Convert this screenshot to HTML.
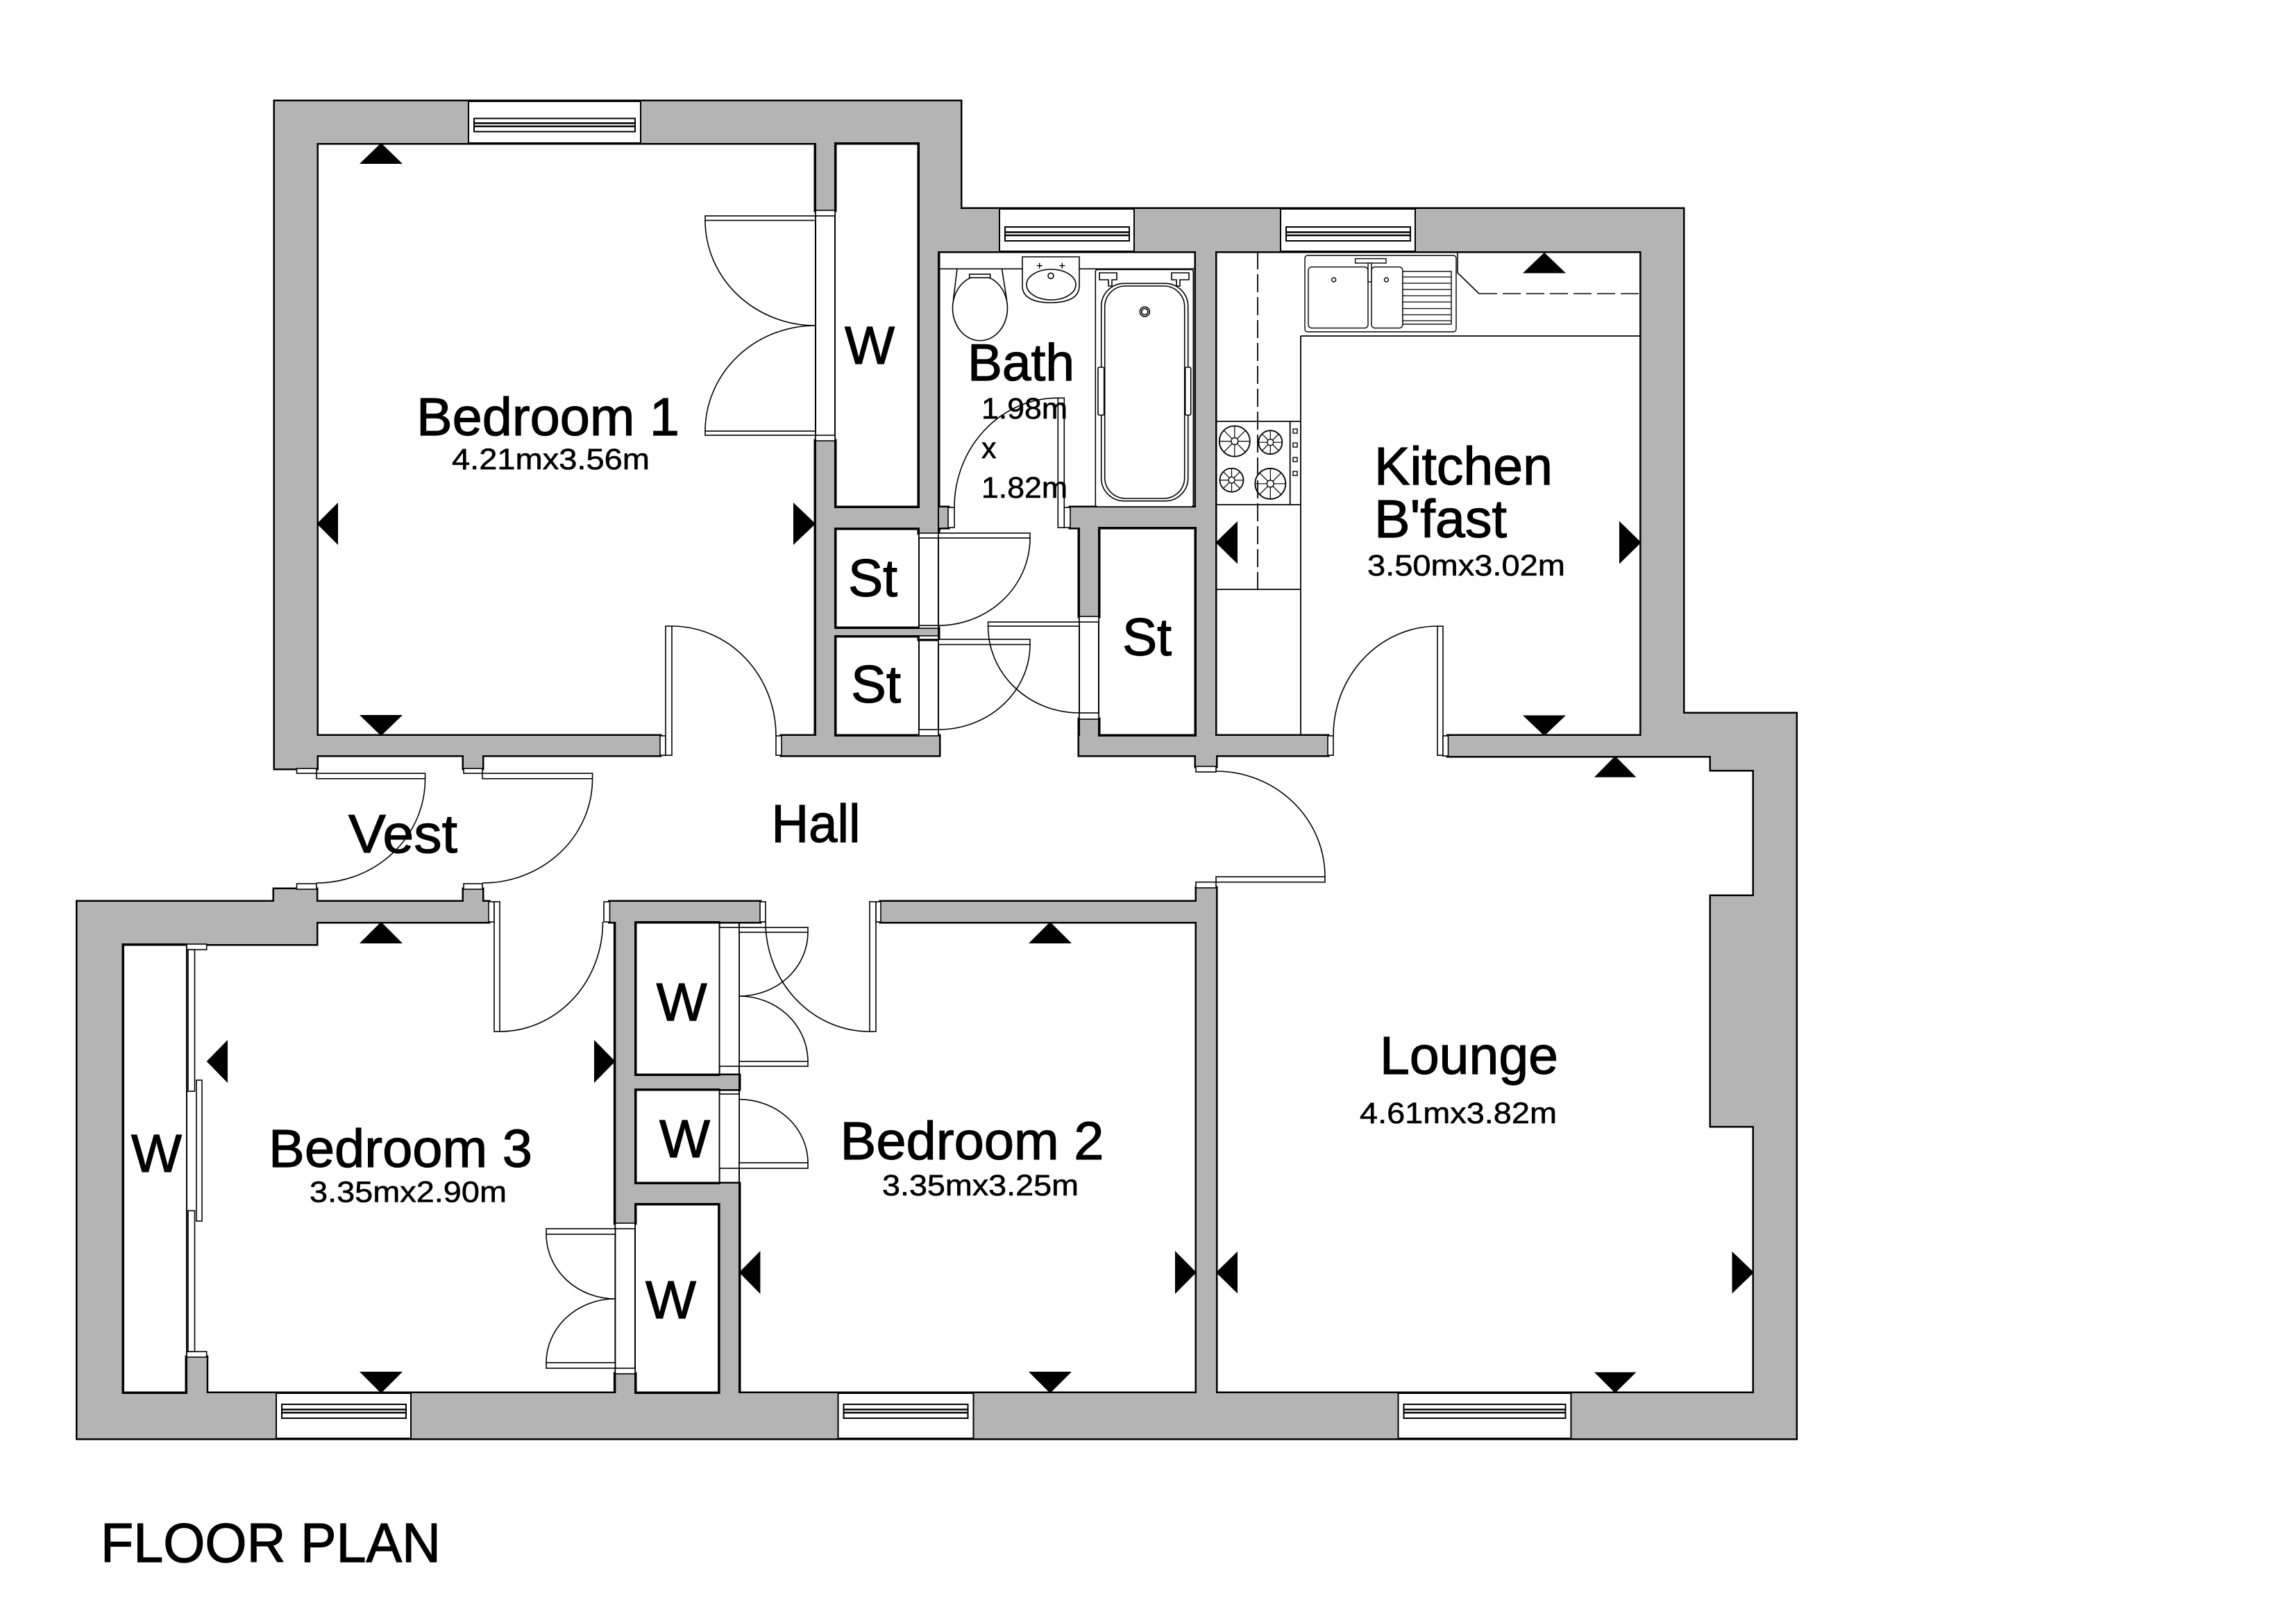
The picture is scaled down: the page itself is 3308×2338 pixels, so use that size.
<!DOCTYPE html>
<html><head><meta charset="utf-8"><style>
html,body{margin:0;padding:0;background:#fff;}
svg{display:block;}
text{font-family:"Liberation Sans",Arial,sans-serif;fill:#000;}
.b{stroke:#000;stroke-width:1.2;}
.s{stroke:#000;stroke-width:0.6;}
</style></head><body>
<svg xmlns="http://www.w3.org/2000/svg" width="3308" height="2338" viewBox="0 0 3308 2338">
<rect x="0" y="0" width="3308" height="2338" fill="#fff"/>
<g fill="#b4b4b4">
<path stroke="#000" stroke-width="5" d="M396 146H1384V206H396Z M396 146H456.5V1107H396Z M396 1060H951V1088H396Z M668 1088H695V1107H668Z M1175 206H1203V303H1175Z M1175 635H1203V1088H1175Z M1175 731H1353V761H1175Z M1203 905H1324V916H1203Z M1126 1060H1353V1088H1126Z M1324 146H1384V362H1324Z M1324 362H1352V768H1324Z M1324 905H1352V921H1324Z M1384 301H2425V362H1384Z M1324 731H1366V760H1324Z M1542 731H1751V760H1542Z M1723 362H1751V1060H1723Z M1555 760H1583V888H1555Z M1555 1036H1583V1060H1555Z M1555 1060H1913V1088H1555Z M1723 1088H1752V1104H1723Z M2364.6 301H2425V1060H2364.6Z M2086.5 1060H2587.6V1089H2086.5Z M2364.6 1028H2587.6V1060H2364.6Z M2465 1060H2587.6V1109H2465Z M2527 1060H2587.6V2072H2527Z M2465 1291H2527V1622H2465Z M111.5 1299H704V1328H111.5Z M176.5 1328H456V1360H176.5Z M395 1281H456V1299H395Z M668 1281H695V1299H668Z M111.5 1299H176.5V2072H111.5Z M111.5 2007H2587.6V2072H111.5Z M269 1955H297.7V2007H269Z M886.4 1299H915V1762H886.4Z M886.4 1979H915V2007H886.4Z M878.5 1299H1095V1328H878.5Z M915 1549H1065V1569H915Z M915 1705H1065V1734H915Z M1036.6 1705H1065V2007H1036.6Z M1269 1299H1752V1328H1269Z M1724 1279H1752V2007H1724Z"/>
<path d="M396 146H1384V206H396Z M396 146H456.5V1107H396Z M396 1060H951V1088H396Z M668 1088H695V1107H668Z M1175 206H1203V303H1175Z M1175 635H1203V1088H1175Z M1175 731H1353V761H1175Z M1203 905H1324V916H1203Z M1126 1060H1353V1088H1126Z M1324 146H1384V362H1324Z M1324 362H1352V768H1324Z M1324 905H1352V921H1324Z M1384 301H2425V362H1384Z M1324 731H1366V760H1324Z M1542 731H1751V760H1542Z M1723 362H1751V1060H1723Z M1555 760H1583V888H1555Z M1555 1036H1583V1060H1555Z M1555 1060H1913V1088H1555Z M1723 1088H1752V1104H1723Z M2364.6 301H2425V1060H2364.6Z M2086.5 1060H2587.6V1089H2086.5Z M2364.6 1028H2587.6V1060H2364.6Z M2465 1060H2587.6V1109H2465Z M2527 1060H2587.6V2072H2527Z M2465 1291H2527V1622H2465Z M111.5 1299H704V1328H111.5Z M176.5 1328H456V1360H176.5Z M395 1281H456V1299H395Z M668 1281H695V1299H668Z M111.5 1299H176.5V2072H111.5Z M111.5 2007H2587.6V2072H111.5Z M269 1955H297.7V2007H269Z M886.4 1299H915V1762H886.4Z M886.4 1979H915V2007H886.4Z M878.5 1299H1095V1328H878.5Z M915 1549H1065V1569H915Z M915 1705H1065V1734H915Z M1036.6 1705H1065V2007H1036.6Z M1269 1299H1752V1328H1269Z M1724 1279H1752V2007H1724Z"/>
</g>

<g fill="#fff" stroke="#000" stroke-width="2">
<rect x="675" y="146" width="248" height="60"/>
<rect x="683" y="170.6" width="232" height="19"/>
<rect x="1440" y="301" width="194" height="61"/>
<rect x="1448" y="327" width="179" height="20"/>
<rect x="1845" y="301" width="194" height="61"/>
<rect x="1853" y="327" width="179" height="20"/>
<rect x="398" y="2007" width="194" height="65"/>
<rect x="406" y="2023" width="179" height="20"/>
<rect x="1207.5" y="2007" width="195" height="65"/>
<rect x="1215.5" y="2023" width="179" height="20"/>
<rect x="2014.5" y="2007" width="249" height="65"/>
<rect x="2022.5" y="2023" width="233" height="20"/>
</g>
<g stroke="#000" stroke-width="2.5">
<line x1="683" y1="177.5" x2="915" y2="177.5"/><line x1="683" y1="182" x2="915" y2="182"/>
<line x1="1448" y1="334.5" x2="1627" y2="334.5"/><line x1="1448" y1="339" x2="1627" y2="339"/>
<line x1="1853" y1="334.5" x2="2032" y2="334.5"/><line x1="1853" y1="339" x2="2032" y2="339"/>
<line x1="406" y1="2030.5" x2="585" y2="2030.5"/><line x1="406" y1="2035" x2="585" y2="2035"/>
<line x1="1215.5" y1="2030.5" x2="1394.5" y2="2030.5"/><line x1="1215.5" y1="2035" x2="1394.5" y2="2035"/>
<line x1="2022.5" y1="2030.5" x2="2255.5" y2="2030.5"/><line x1="2022.5" y1="2035" x2="2255.5" y2="2035"/>
</g>

<g fill="none" stroke="#000" stroke-width="2">
<rect x="1203" y="206" width="121" height="525"/>
<rect x="1203" y="761" width="121" height="144"/>
<rect x="1203" y="916" width="121" height="144"/>
<rect x="1583" y="760" width="140" height="300"/>
<rect x="176.5" y="1360" width="92.5" height="647"/>
<rect x="915" y="1328" width="121.6" height="221"/>
<rect x="915" y="1569" width="121.6" height="136"/>
<rect x="915" y="1734" width="121.6" height="273"/>
<line x1="1175" y1="206" x2="1175" y2="1060"/>
<line x1="1065" y1="1328" x2="1065" y2="2007"/>
<line x1="886.4" y1="1328" x2="886.4" y2="2007"/>
<line x1="1352" y1="362" x2="1352" y2="1060"/>
<line x1="1555" y1="760" x2="1555" y2="1060"/>
</g>

<g fill="#fff" stroke="#000" stroke-width="1.6">
<rect x="1175" y="303" width="28" height="8"/>
<rect x="1175" y="627" width="28" height="8"/>
<rect x="1016" y="311" width="159" height="6.5"/>
<rect x="1016" y="621" width="159" height="6"/>
<rect x="951" y="1060" width="8" height="28"/>
<rect x="959" y="902" width="9" height="186"/>
<rect x="1118" y="1060" width="8" height="28"/>
<rect x="1366" y="731" width="9" height="29"/>
<rect x="1524.3" y="573.3" width="9" height="186.7"/>
<rect x="1533.3" y="731" width="8.7" height="29"/>
<rect x="1324" y="768" width="28" height="7"/>
<rect x="1324" y="901" width="28" height="4"/>
<rect x="1352" y="768" width="132" height="7"/>
<rect x="1324" y="916" width="28" height="5"/>
<rect x="1324" y="1051" width="28" height="9"/>
<rect x="1352" y="921" width="132" height="7.5"/>
<rect x="1555" y="888" width="28" height="8"/>
<rect x="1555" y="1027" width="28" height="9"/>
<rect x="1423.6" y="896" width="131.4" height="6"/>
<rect x="1913" y="1060" width="8" height="28"/>
<rect x="2071" y="902" width="8" height="186"/>
<rect x="2079" y="1060" width="7.5" height="29"/>
<rect x="1723" y="1104" width="29" height="8"/>
<rect x="1752" y="1263" width="157" height="7.7"/>
<rect x="1723" y="1270.7" width="29" height="8.3"/>
<rect x="427.5" y="1107" width="28.5" height="7"/>
<rect x="668" y="1107" width="27" height="7"/>
<rect x="456" y="1114" width="156.6" height="7.7"/>
<rect x="695" y="1114" width="158.6" height="7.7"/>
<rect x="427.5" y="1273" width="28.5" height="8"/>
<rect x="668" y="1273" width="27" height="8"/>
<rect x="704" y="1299" width="8" height="29"/>
<rect x="712" y="1299" width="8" height="187"/>
<rect x="870" y="1299" width="8.5" height="29"/>
<rect x="1095" y="1299" width="8" height="29"/>
<rect x="1253" y="1299" width="9" height="187"/>
<rect x="1262" y="1299" width="7" height="29"/>
<rect x="1036.6" y="1336" width="28.4" height="200"/>
<rect x="1036.6" y="1576" width="28.4" height="107"/>
<rect x="1065" y="1336" width="99" height="7"/>
<rect x="1065" y="1529" width="99" height="7"/>
<rect x="1065" y="1675" width="99" height="8"/>
<rect x="886.4" y="1762" width="28.6" height="8"/>
<rect x="886.4" y="1971" width="28.6" height="8"/>
<rect x="787" y="1770" width="99.4" height="8"/>
<rect x="787" y="1963" width="99.4" height="8"/>
<rect x="269" y="1360" width="28.7" height="8"/>
<rect x="269" y="1947" width="28.7" height="8"/>
<rect x="271" y="1368" width="9.5" height="204"/>
<rect x="283" y="1556" width="8" height="203"/>
<rect x="271" y="1744" width="9.5" height="203"/>
</g>
<g fill="none" stroke="#000" stroke-width="1.6">
<path d="M1016 317.5 A159 151.5 0 0 0 1175 469"/>
<path d="M1016 621 A159 152 0 0 1 1175 469"/>
<path d="M968 902 A150 158 0 0 1 1118 1060"/>
<path d="M1524.3 573.3 A149 157.7 0 0 0 1375 731"/>
<path d="M1484 775 A132 126 0 0 1 1352 901"/>
<path d="M1484 928.5 A132 122.5 0 0 1 1352 1051"/>
<path d="M1423.6 902 A131.4 125 0 0 0 1555 1027"/>
<path d="M2071 902 A150 158 0 0 0 1921 1060"/>
<path d="M1909 1263 A157 152 0 0 0 1752 1111"/>
<path d="M612.6 1121.7 A156.6 150 0 0 1 456 1272"/>
<path d="M853.6 1121.7 A158.6 150 0 0 1 695 1272"/>
<path d="M720 1486 A148.5 158 0 0 0 868.5 1328"/>
<path d="M1253 1486 A150 158 0 0 1 1103 1328"/>
<path d="M1164 1343 A99 92 0 0 1 1065 1435"/>
<path d="M1164 1529 A99 94 0 0 0 1065 1435"/>
<path d="M1164 1675 A99 91.3 0 0 0 1065 1583.7"/>
<path d="M787 1778 A99.4 93 0 0 0 886.4 1871"/>
<path d="M787 1963 A99.4 92 0 0 1 886.4 1871"/>
</g>

<g fill="none" stroke="#000" stroke-width="1.8">
<line x1="1874" y1="484" x2="1874" y2="1060"/>
<line x1="1874" y1="484" x2="2364.6" y2="484"/>
<line x1="1751.5" y1="849" x2="1874" y2="849"/>
<line x1="1812" y1="362" x2="1812" y2="849" stroke-dasharray="26 7"/>
<line x1="1751.5" y1="607" x2="1874" y2="607"/>
<line x1="1751.5" y1="727" x2="1874" y2="727"/>
<line x1="1858.7" y1="607" x2="1858.7" y2="727"/>
<circle cx="1778.8" cy="635.6" r="22"/>
<circle cx="1830.3" cy="637.2" r="17"/>
<circle cx="1774.5" cy="691.6" r="17"/>
<circle cx="1830.3" cy="696.8" r="22"/>
<path stroke-width="1.2" d="M1756.8 635.6H1800.8M1778.8 613.6V657.6 M1813.3 637.2H1847.3M1830.3 620.2V654.2 M1757.5 691.6H1791.5M1774.5 674.6V708.6 M1808.3 696.8H1852.3M1830.3 674.8V718.8"/>
<path stroke-width="1.2" d="M1763.2 620L1794.4 651.2M1794.4 620L1763.2 651.2 M1818.3 625.2L1842.3 649.2M1842.3 625.2L1818.3 649.2 M1762.5 679.6L1786.5 703.6M1786.5 679.6L1762.5 703.6 M1814.7 681.2L1845.9 712.4M1845.9 681.2L1814.7 712.4"/>
</g>
<g fill="#fff" stroke="#000" stroke-width="1.4">
<circle cx="1778.8" cy="635.6" r="5"/>
<circle cx="1830.3" cy="637.2" r="4.5"/>
<circle cx="1774.5" cy="691.6" r="4.5"/>
<circle cx="1830.3" cy="696.8" r="5"/>
<rect x="1863" y="618" width="6" height="6"/>
<rect x="1863" y="638" width="6" height="6"/>
<rect x="1863" y="659" width="6" height="6"/>
<rect x="1863" y="679" width="6" height="6"/>
<rect x="1880" y="368" width="218" height="110" rx="4"/>
<rect x="1885" y="384.6" width="86" height="88" rx="5"/>
<rect x="1976" y="384.6" width="45" height="88" rx="5"/>
<rect x="2021" y="391" width="70" height="76"/>
<rect x="1952.6" y="372.6" width="44.4" height="6.4"/>
<rect x="1971" y="379" width="5" height="27"/>
<circle cx="1921.7" cy="403" r="3"/>
<circle cx="1997.5" cy="403" r="3"/>
</g>
<g stroke="#000" stroke-width="1.2" fill="none">
<path d="M2021 399H2091M2021 408H2091M2021 417H2091M2021 426H2091M2021 435H2091M2021 444.5H2091M2021 453.5H2091M2021 462H2091"/>
<path stroke-width="1.6" d="M2100 362V393L2131 423"/>
<line x1="2131" y1="423" x2="2364.6" y2="423" stroke-width="1.6" stroke-dasharray="26 8"/>
</g>

<g fill="none" stroke="#000" stroke-width="1.6">
<line x1="1352" y1="387.3" x2="1723" y2="387.3"/>
<line x1="1379" y1="387.3" x2="1373.5" y2="432"/>
<line x1="1443.5" y1="387.3" x2="1450.5" y2="432"/>
</g>
<g fill="#fff" stroke="#000" stroke-width="1.6">
<ellipse cx="1412" cy="444" rx="39.5" ry="46.7"/>
<rect x="1396.7" y="395" width="30" height="5"/>
<path d="M1473 370H1555V412C1555 430 1536 436 1514 436C1492 436 1473 430 1473 412Z"/>
<ellipse cx="1514.5" cy="410" rx="35.5" ry="22"/>
<circle cx="1514" cy="397.3" r="4"/>
<rect x="1578.3" y="388.3" width="141" height="341.7" rx="3"/>
<rect x="1586.7" y="408.3" width="125" height="313.4" rx="33"/>
<rect x="1591.7" y="412" width="115" height="306" rx="30"/>
<path d="M1584 393H1609V403H1602V412H1597V403H1584Z"/>
<path d="M1713 393H1688V403H1695V412H1700V403H1713Z"/>
<rect x="1582" y="529" width="8.7" height="69" rx="2"/>
<rect x="1707.7" y="529" width="8" height="69" rx="2"/>
<circle cx="1649.3" cy="449" r="7"/>
<circle cx="1649.3" cy="449" r="4.5"/>
</g>
<g stroke="#000" stroke-width="1.4">
<path d="M1493.7 382.7H1501.7M1497.7 378.7V386.7M1526.3 382.7H1534.3M1530.3 378.7V386.7"/>
</g>

<g fill="#000">
<polygon points="518,236 580,236 549,206"/>
<polygon points="518,1030 580,1030 549,1060"/>
<polygon points="487,724 487,785 456.5,754.5"/>
<polygon points="1143,724 1143,785 1175,754.5"/>
<polygon points="2194,393.5 2256,393.5 2225,363.7"/>
<polygon points="2194,1030.5 2256,1030.5 2225,1060"/>
<polygon points="1783,750.7 1783,812.4 1751.5,781.5"/>
<polygon points="2333,750.7 2333,812.4 2364.6,781.5"/>
<polygon points="2297,1119.6 2357.4,1119.6 2327,1089"/>
<polygon points="2297,1976.7 2357.4,1976.7 2327,2006.7"/>
<polygon points="1783,1802.7 1783,1863.4 1752,1833"/>
<polygon points="2495.5,1802.7 2495.5,1863.4 2527,1833"/>
<polygon points="1482,1359 1544,1359 1513,1328"/>
<polygon points="1482,1976 1544,1976 1513,2007"/>
<polygon points="1095.4,1802 1095.4,1864 1065,1833"/>
<polygon points="1693,1802 1693,1864 1723.7,1833"/>
<polygon points="518,1359 580,1359 549,1328"/>
<polygon points="518,1976 580,1976 549,2007"/>
<polygon points="328,1498 328,1560 297.7,1529"/>
<polygon points="856,1498 856,1560 886.4,1529"/>
</g>

<g>
<text class="b" x="600" y="627" font-size="77" textLength="379" lengthAdjust="spacingAndGlyphs">Bedroom 1</text>
<text class="s" x="651" y="676" font-size="43" textLength="285" lengthAdjust="spacingAndGlyphs">4.21mx3.56m</text>
<text class="b" x="1217" y="524" font-size="77" textLength="72" lengthAdjust="spacingAndGlyphs">W</text>
<text class="b" x="1222" y="859" font-size="76" textLength="71" lengthAdjust="spacingAndGlyphs">St</text>
<text class="b" x="1226" y="1012" font-size="76" textLength="72" lengthAdjust="spacingAndGlyphs">St</text>
<text class="b" x="1617" y="944" font-size="76" textLength="71" lengthAdjust="spacingAndGlyphs">St</text>
<text class="b" x="1394" y="548" font-size="75" textLength="154" lengthAdjust="spacingAndGlyphs">Bath</text>
<text class="s" x="1414" y="603" font-size="43" textLength="124" lengthAdjust="spacingAndGlyphs">1.98m</text>
<text class="s" x="1414" y="660" font-size="43">x</text>
<text class="s" x="1414" y="717" font-size="43" textLength="124" lengthAdjust="spacingAndGlyphs">1.82m</text>
<text class="b" x="1980" y="698" font-size="77" textLength="257" lengthAdjust="spacingAndGlyphs">Kitchen</text>
<text class="b" x="1980" y="774" font-size="77" textLength="191" lengthAdjust="spacingAndGlyphs">B'fast</text>
<text class="s" x="1970" y="829" font-size="43" textLength="285" lengthAdjust="spacingAndGlyphs">3.50mx3.02m</text>
<text class="b" x="502" y="1228" font-size="78" textLength="157" lengthAdjust="spacingAndGlyphs">Vest</text>
<text class="b" x="1111.5" y="1213" font-size="77" textLength="128" lengthAdjust="spacingAndGlyphs">Hall</text>
<text class="b" x="1988" y="1547" font-size="77" textLength="257" lengthAdjust="spacingAndGlyphs">Lounge</text>
<text class="s" x="1959" y="1618" font-size="43" textLength="284" lengthAdjust="spacingAndGlyphs">4.61mx3.82m</text>
<text class="b" x="1210.5" y="1670" font-size="77" textLength="380" lengthAdjust="spacingAndGlyphs">Bedroom 2</text>
<text class="s" x="1271" y="1722" font-size="43" textLength="283" lengthAdjust="spacingAndGlyphs">3.35mx3.25m</text>
<text class="b" x="387" y="1681" font-size="77" textLength="380" lengthAdjust="spacingAndGlyphs">Bedroom 3</text>
<text class="s" x="446" y="1731.5" font-size="43" textLength="284" lengthAdjust="spacingAndGlyphs">3.35mx2.90m</text>
<text class="b" x="189" y="1688" font-size="77" textLength="73" lengthAdjust="spacingAndGlyphs">W</text>
<text class="b" x="945.7" y="1470" font-size="77" textLength="73" lengthAdjust="spacingAndGlyphs">W</text>
<text class="b" x="950" y="1667" font-size="77" textLength="73" lengthAdjust="spacingAndGlyphs">W</text>
<text class="b" x="930" y="1899" font-size="77" textLength="73" lengthAdjust="spacingAndGlyphs">W</text>
<text class="b" x="145" y="2250" font-size="80" textLength="490" lengthAdjust="spacingAndGlyphs">FLOOR PLAN</text>
</g>
</svg>
</body></html>
